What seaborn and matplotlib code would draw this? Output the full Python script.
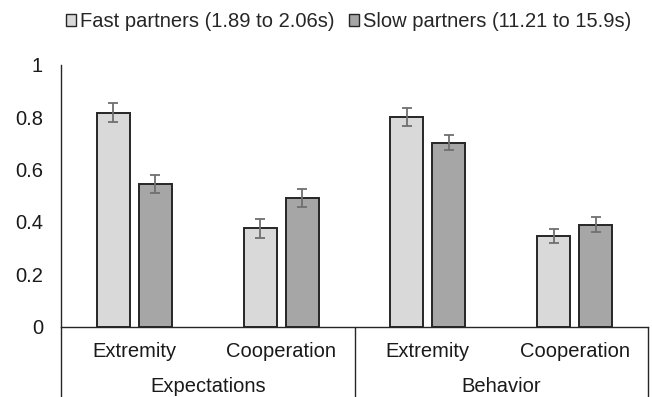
import matplotlib
matplotlib.use("Agg")
import matplotlib.pyplot as plt
import matplotlib.transforms as mtransforms
from matplotlib.patches import Patch
import seaborn as sns
import pandas as pd

# Data
groups = ["Expectations", "Expectations", "Behavior", "Behavior"]
measures = ["Extremity", "Cooperation", "Extremity", "Cooperation"]
series = ["Fast partners (1.89 to 2.06s)", "Slow partners (11.21 to 15.9s)"]
fast = [0.818, 0.375, 0.801, 0.346]
slow = [0.545, 0.491, 0.703, 0.389]
fast_err = [0.036, 0.038, 0.033, 0.027]
slow_err = [0.035, 0.034, 0.028, 0.028]
yticks = [0, 0.2, 0.4, 0.6, 0.8, 1]
ytick_labels = ["0", "0.2", "0.4", "0.6", "0.8", "1"]

colors = ["#d9d9d9", "#a6a6a6"]
edge = "#262626"
err_color = "#6f6f6f"
text_color = "#1a1a1a"
fs = 14.5

cells = [f"{g} {m}" for g, m in zip(groups, measures)]
df = pd.DataFrame({
    "cell": cells * 2,
    "series": [series[0]] * 4 + [series[1]] * 4,
    "value": fast + slow,
})
errs = {series[0]: fast_err, series[1]: slow_err}

sns.set_style("white")
plt.rcParams["font.family"] = ["Liberation Sans", "DejaVu Sans"]

fig = plt.figure(figsize=(6.52, 3.97), dpi=100)
W, H = 652, 397
ax = fig.add_axes([61 / W, 70.5 / H, 587 / W, 261.5 / H])

sns.barplot(data=df, x="cell", y="value", hue="series", order=cells,
            hue_order=series, palette=colors, width=0.573, gap=0.215,
            errorbar=None, edgecolor=edge, linewidth=1.4, legend=False, ax=ax)

# error bars at the centre of each bar
for cont, s in zip(ax.containers, series):
    for patch, e in zip(cont.patches, errs[s]):
        xc = patch.get_x() + patch.get_width() / 2
        ax.errorbar(xc, patch.get_height(), yerr=e, color=err_color,
                    capsize=3.5, elinewidth=1.3, capthick=1.3, zorder=5)

ax.set_ylim(0, 1)
ax.set_xlim(-0.5, 3.5)
ax.set_yticks(yticks)
ax.set_yticklabels(ytick_labels, fontsize=fs, color=text_color)
ax.set_xticks(range(4))
ax.set_xticklabels(measures, fontsize=fs, color=text_color)
ax.tick_params(axis="x", length=0, pad=11)
ax.tick_params(axis="y", length=0, pad=13)
ax.set_xlabel("")
ax.set_ylabel("")
for side in ["top", "right"]:
    ax.spines[side].set_visible(False)
for side in ["left", "bottom"]:
    ax.spines[side].set_color(edge)
    ax.spines[side].set_linewidth(1.0)

# group separators and labels beneath the category axis
trans = mtransforms.blended_transform_factory(ax.transData, ax.transAxes)
for xs in [-0.5, 1.5, 3.5]:
    ax.plot([xs, xs], [0, -0.4], transform=trans, color=edge, lw=1.0,
            clip_on=False)
for xg, name in [(0.5, "Expectations"), (2.5, "Behavior")]:
    ax.text(xg, -0.23, name, transform=trans, ha="center", va="center",
            fontsize=fs, color=text_color)

handles = [Patch(facecolor=c, edgecolor=edge, linewidth=1.0) for c in colors]
fig.legend(handles, series, loc="upper center", bbox_to_anchor=(0.535, 1.015),
           ncol=2, frameon=False, fontsize=fs, handlelength=0.5,
           handleheight=0.5, handletextpad=0.2, columnspacing=0.7)

fig.savefig("out.png", dpi=100)
